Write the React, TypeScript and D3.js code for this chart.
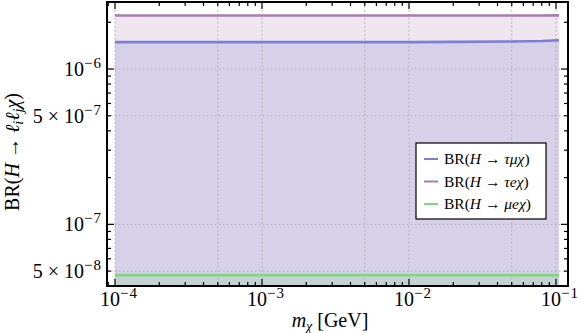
import * as d3 from "d3";

// m_chi in GeV
const mChi = [1e-4, 2e-4, 5e-4, 1e-3, 2e-3, 5e-3, 1e-2, 2e-2, 5e-2, 8e-2, 0.105];
const brTauMu = [1.49e-6, 1.49e-6, 1.49e-6, 1.49e-6, 1.49e-6, 1.49e-6, 1.49e-6, 1.495e-6, 1.505e-6, 1.515e-6, 1.53e-6];
const brTauE = [2.21e-6, 2.21e-6, 2.21e-6, 2.21e-6, 2.21e-6, 2.21e-6, 2.21e-6, 2.21e-6, 2.21e-6, 2.21e-6, 2.215e-6];
const brMuE = [4.71e-8, 4.71e-8, 4.71e-8, 4.71e-8, 4.71e-8, 4.71e-8, 4.71e-8, 4.71e-8, 4.71e-8, 4.71e-8, 4.71e-8];

const xTickVals = [1e-4, 1e-3, 1e-2, 1e-1];
const xTickExp = ["−4", "−3", "−2", "−1"];
const yTickVals = [1e-6, 5e-7, 1e-7, 5e-8];
const yTickPre = ["", "5 × ", "", "5 × "];
const yTickExp = ["−6", "−7", "−7", "−8"];
const gridX = [1e-4, 5e-4, 1e-3, 5e-3, 1e-2, 5e-2, 1e-1];
const gridY = [1e-6, 5e-7, 1e-7, 5e-8];

const series = [
  { key: "τμχ", values: brTauMu, color: "#7b7fd8" },
  { key: "τeχ", values: brTauE, color: "#a87dac" },
  { key: "μeχ", values: brMuE, color: "#7fd87f" },
];

const W = 581;
const H = 333;
const L = 107, R = 568, T = 2, B = 286;
const FONT = "'Liberation Serif', 'DejaVu Serif', serif";

export default function App() {
  const x = d3.scaleLog().domain([8.82e-5, 0.1207]).range([L, R]);
  const y = d3.scaleLog().domain([4.01e-8, 2.70e-6]).range([B, T]);

  const minorX: number[] = [];
  for (let e = -5; e <= 0; e++) for (let k = 1; k <= 9; k++) {
    const v = k * Math.pow(10, e);
    if (v >= 8.82e-5 && v <= 0.1207) minorX.push(v);
  }
  const minorY: number[] = [];
  for (let e = -9; e <= -5; e++) for (let k = 1; k <= 9; k++) {
    const v = k * Math.pow(10, e);
    if (v >= 4.01e-8 && v <= 2.7e-6) minorY.push(v);
  }
  const isMajor = (v: number) => Math.abs(Math.log10(v) - Math.round(Math.log10(v))) < 1e-6;

  const area = (vals: number[]) =>
    d3.area<number>().x((_, i) => x(mChi[i])).y0(B).y1((d) => y(d))(vals) ?? "";
  const line = (vals: number[]) =>
    d3.line<number>().x((_, i) => x(mChi[i])).y((d) => y(d))(vals) ?? "";

  const fillOrder = [series[1], series[0], series[2]];

  return (
    <div style={{ position: "absolute", left: 0, top: 0 }}>
      <svg width={W} height={H} style={{ display: "block", fontFamily: FONT }}>
        <rect width={W} height={H} fill="white" />
        {fillOrder.map((s) => (
          <path key={"a" + s.key} d={area(s.values)} fill={s.color} fillOpacity={0.2} />
        ))}
        {gridX.map((v) => (
          <line key={"gx" + v} x1={x(v)} x2={x(v)} y1={T} y2={B} stroke="#aaa" strokeWidth={1} strokeDasharray="1.5,2.5" />
        ))}
        {gridY.map((v) => (
          <line key={"gy" + v} x1={L} x2={R} y1={y(v)} y2={y(v)} stroke="#aaa" strokeWidth={1} strokeDasharray="1.5,2.5" />
        ))}
        {fillOrder.map((s) => (
          <path key={"l" + s.key} d={line(s.values)} fill="none" stroke={s.color} strokeWidth={2.6} />
        ))}
        {/* ticks, inward on all sides */}
        {minorX.map((v) => {
          const len = isMajor(v) ? 7 : 4;
          return (
            <g key={"tx" + v}>
              <line x1={x(v)} x2={x(v)} y1={B} y2={B - len} stroke="black" strokeWidth={1.2} />
              <line x1={x(v)} x2={x(v)} y1={T} y2={T + len} stroke="black" strokeWidth={1.2} />
            </g>
          );
        })}
        {minorY.map((v) => {
          const len = isMajor(v) ? 7 : 4;
          return (
            <g key={"ty" + v}>
              <line x1={L} x2={L + len} y1={y(v)} y2={y(v)} stroke="black" strokeWidth={1.2} />
              <line x1={R} x2={R - len} y1={y(v)} y2={y(v)} stroke="black" strokeWidth={1.2} />
            </g>
          );
        })}
        <rect x={L} y={T} width={R - L} height={B - T} fill="none" stroke="black" strokeWidth={2} />
        {xTickVals.map((v, i) => (
          <text key={"xl" + v} x={x(v) + 4} y={305.5} textAnchor="middle" fontSize={20}>
            10<tspan fontSize={15} dy={-8} letterSpacing={1}>{xTickExp[i]}</tspan>
          </text>
        ))}
        {yTickVals.map((v, i) => (
          <text key={"yl" + v} x={102} y={y(v) + 7} textAnchor="end" fontSize={20}>
            {yTickPre[i]}10<tspan fontSize={15} dy={-8} letterSpacing={1}>{yTickExp[i]}</tspan>
          </text>
        ))}
        <text x={330} y={327} textAnchor="middle" fontSize={20}>
          <tspan fontStyle="italic">m</tspan>
          <tspan fontStyle="italic" fontSize={14} dy={4}>χ</tspan>
          <tspan dy={-4}> [GeV]</tspan>
        </text>
        <text transform="translate(19,152) rotate(-90)" textAnchor="middle" fontSize={20}>
          BR(<tspan fontStyle="italic">H</tspan> → <tspan fontStyle="italic">ℓ</tspan>
          <tspan fontStyle="italic" fontSize={14} dy={4}>i</tspan>
          <tspan fontStyle="italic" dy={-4}>ℓ</tspan>
          <tspan fontStyle="italic" fontSize={14} dy={4}>j</tspan>
          <tspan fontStyle="italic" dy={-4}>χ</tspan>)
        </text>
        <g transform="translate(416,143)">
          <rect width={130} height={76} fill="white" stroke="black" strokeWidth={1.2} />
          {series.map((s, i) => (
            <g key={"lg" + s.key} transform={`translate(0,${16 + i * 22.5})`}>
              <line x1={8} x2={22} y1={0} y2={0} stroke={s.color} strokeWidth={2} />
              <text x={28} y={5} fontSize={15.5}>
                BR(<tspan fontStyle="italic">H</tspan> → <tspan fontStyle="italic">{s.key}</tspan>)
              </text>
            </g>
          ))}
        </g>
      </svg>
    </div>
  );
}
